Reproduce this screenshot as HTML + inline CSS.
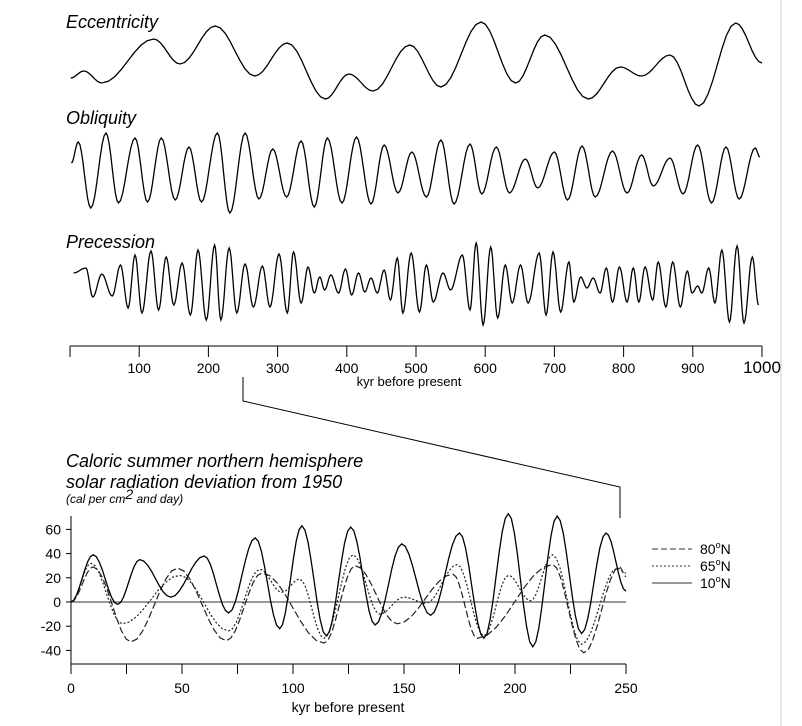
<!DOCTYPE html>
<html><head><meta charset="utf-8"><style>
html,body{margin:0;padding:0;background:#fff;}
svg{display:block;font-family:"Liberation Sans",sans-serif;}
</style></head><body>
<svg id="c" width="802" height="726" viewBox="0 0 802 726">
<line x1="781" y1="0" x2="781" y2="726" stroke="#ccc" stroke-width="1"/>
<text x="66" y="28" font-size="18" font-style="italic">Eccentricity</text>
<text x="66" y="124" font-size="18" font-style="italic">Obliquity</text>
<text x="66" y="248" font-size="18" font-style="italic">Precession</text>
<g id="topg"></g>
<text x="409" y="386" font-size="13" text-anchor="middle">kyr before present</text>
<polyline points="243,377 243,401 620,487 620,518" fill="none" stroke="#000" stroke-width="1"/>
<text x="66" y="467" font-size="18" font-style="italic">Caloric summer northern hemisphere</text>
<text x="66" y="488" font-size="18" font-style="italic">solar radiation deviation from 1950</text>
<text x="66" y="503" font-size="12" font-style="italic">(cal per cm<tspan font-size="14" dy="-4">2</tspan><tspan dy="4"> and day)</tspan></text>
<g id="botg"></g>
<text x="348" y="712" font-size="14" text-anchor="middle">kyr before present</text>
<g>
<line x1="652" y1="549" x2="692" y2="549" stroke="#333" stroke-dasharray="6,3"/>
<text x="700" y="554" font-size="14">80<tspan font-size="9" dy="-6">o</tspan><tspan dy="6">N</tspan></text>
<line x1="652" y1="566" x2="692" y2="566" stroke="#333" stroke-dasharray="2,2"/>
<text x="700" y="571" font-size="14">65<tspan font-size="9" dy="-6">o</tspan><tspan dy="6">N</tspan></text>
<line x1="652" y1="583" x2="692" y2="583" stroke="#333"/>
<text x="700" y="588" font-size="14">10<tspan font-size="9" dy="-6">o</tspan><tspan dy="6">N</tspan></text>
</g>
</svg>
<script>
// ---- top chart data: extrema [kyr, value] ----
const eccKyr=[1,20,46,121,159,210,267,314,369,403,438,491,536,594,644,686,749,795,826,867,909,962,1000];
const eccVal=[32,39,27,71,46,84,34,67,11,36,19,65,23,88,27,75,11,43,34,55,4,87,47];
const oblKyr=[2,12,30,52,70,94,112,132,152,172,190,213,231,253,273,293,313,334,353,372,393,414,435,454,474,494,515,536,555,578,595,616,635,658,676,700,719,740,759,784,805,826,843,867,886,907,927,948,967,990,997];
const oblVal=[9,30,-36,39,-31,34,-30,34,-28,25,-30,39,-41,39,-27,23,-25,31,-35,34,-31,35,-32,27,-21,20,-25,32,-32,28,-22,25,-21,13,-16,20,-28,26,-25,21,-21,17,-14,14,-22,27,-31,25,-27,24,15];
const preKyr=[5,23,33,46,61,73,84,94,104,117,128,139,150,162,174,185,197,209,218,230,241,253,265,278,289,302,314,323,334,344,353,361,368,377,388,398,407,417,426,435,444,454,463,473,481,493,505,515,525,539,550,567,578,587,597,608,618,629,639,651,662,678,688,698,709,721,728,738,747,756,766,775,784,794,805,814,822,831,842,850,861,871,882,892,899,907,913,923,932,942,953,964,974,986,995];
const preVal=[10,15,-14,9,-13,18,-25,28,-30,32,-27,26,-22,20,-32,33,-37,38,-37,35,-30,19,-24,17,-24,29,-30,31,-20,16,-10,6,-7,8,-10,14,-12,10,-9,5,-10,13,-17,25,-30,30,-29,18,-19,10,-7,28,-27,40,-42,36,-35,18,-20,18,-20,30,-32,31,-29,21,-19,6,-5,5,-10,15,-19,16,-19,15,-19,16,-17,21,-24,21,-24,12,-10,-3,-10,15,-20,33,-39,37,-40,26,-22];
const topTicks=[0,100,200,300,400,500,600,700,800,900,1000];
// ---- bottom chart data ----
const n10Kyr=[0,10,21,31,45,60,71,83,94,104,115,126,137,149,162,175,186,197,208,219,230,241,250];
const n10Val=[0,39,-2,35,4,38,-9,53,-22,63,-28,62,-19,48,-11,57,-30,73,-37,71,-26,57,9];
const n65Kyr=[0,9,23,49,71,85,95,103,114,127,139,150,160,174,186,197,207,217,230,246,250];
const n65Val=[0,32,-18,22,-24,27,8,19,-30,39,-10,4,-1,31,-28,22,1,39,-35,28,24];
const n80Kyr=[0,10,27,48,70,86,114,128,147,172,183,217,231,247,250];
const n80Val=[0,29,-33,28,-32,24,-34,30,-18,23,-30,31,-42,29,21];
const botXTicks=[0,25,50,75,100,125,150,175,200,225,250];
const botXLabels=[0,50,100,150,200,250];
const botYTicks=[60,40,20,0,-20,-40];

const NS='http://www.w3.org/2000/svg';
function mk(tag,attrs,parent){const e=document.createElementNS(NS,tag);for(const k in attrs)e.setAttribute(k,attrs[k]);parent.appendChild(e);return e;}
const xTop=k=>70+k*0.692;
const yEcc=v=>110-v, yObl=v=>172-v, yPre=v=>283-v;
const xBot=k=>71+k*2.22;
const yBot=v=>602-v*1.21;
function curve(ks,vs,xf,yf){
  let d='M'+xf(ks[0]).toFixed(1)+','+yf(vs[0]).toFixed(1);
  for(let i=0;i<ks.length-1;i++){
    const n=8;
    for(let j=1;j<=n;j++){const t=j/n, s=(1-Math.cos(Math.PI*t))/2;
      const k=ks[i]+(ks[i+1]-ks[i])*t, v=vs[i]+(vs[i+1]-vs[i])*s;
      d+=' L'+xf(k).toFixed(1)+','+yf(v).toFixed(1);}
  }
  return d;
}
const topG=document.getElementById('topg');
let p;
p=mk('path',{d:curve(eccKyr,eccVal,xTop,yEcc),fill:'none',stroke:'#000','stroke-width':1.3},topG);


p=mk('path',{d:curve(oblKyr,oblVal,xTop,yObl),fill:'none',stroke:'#000','stroke-width':1.3},topG);


p=mk('path',{d:curve(preKyr,preVal,xTop,yPre),fill:'none',stroke:'#000','stroke-width':1.3},topG);


p=mk('line',{x1:xTop(0),y1:346,x2:xTop(1000),y2:346,stroke:'#000'},topG);


topTicks.forEach(t=>{
  const l=mk('line',{x1:xTop(t),y1:346,x2:xTop(t),y2:357,stroke:'#000'},topG);
  
  
  if(t>0){const tx=mk('text',{x:xTop(t),y:373,'font-size':t===1000?17:14,'text-anchor':'middle'},topG);tx.textContent=t;
  
  }
});
const botG=document.getElementById('botg');
p=mk('line',{x1:71,y1:516,x2:71,y2:674,stroke:'#000'},botG);


p=mk('line',{x1:71,y1:664,x2:xBot(250),y2:664,stroke:'#000'},botG);


p=mk('line',{x1:71,y1:yBot(0),x2:xBot(250),y2:yBot(0),stroke:'#333'},botG);


botXTicks.forEach(t=>{const l=mk('line',{x1:xBot(t),y1:664,x2:xBot(t),y2:674,stroke:'#000'},botG);
  
  });
botXLabels.forEach(t=>{const tx=mk('text',{x:xBot(t),y:693,'font-size':14,'text-anchor':'middle'},botG);tx.textContent=t;
  
  });
botYTicks.forEach(t=>{const l=mk('line',{x1:66,y1:yBot(t),x2:71,y2:yBot(t),stroke:'#000'},botG);
  
  
  const tx=mk('text',{x:61,y:yBot(t)+5,'font-size':14,'text-anchor':'end'},botG);tx.textContent=t;
  
  });
p=mk('path',{d:curve(n80Kyr,n80Val,xBot,yBot),fill:'none',stroke:'#222','stroke-width':1.2,'stroke-dasharray':'7,3'},botG);


p=mk('path',{d:curve(n65Kyr,n65Val,xBot,yBot),fill:'none',stroke:'#222','stroke-width':1.2,'stroke-dasharray':'2,2'},botG);


p=mk('path',{d:curve(n10Kyr,n10Val,xBot,yBot),fill:'none',stroke:'#000','stroke-width':1.3},botG);


</script>
</body></html>
